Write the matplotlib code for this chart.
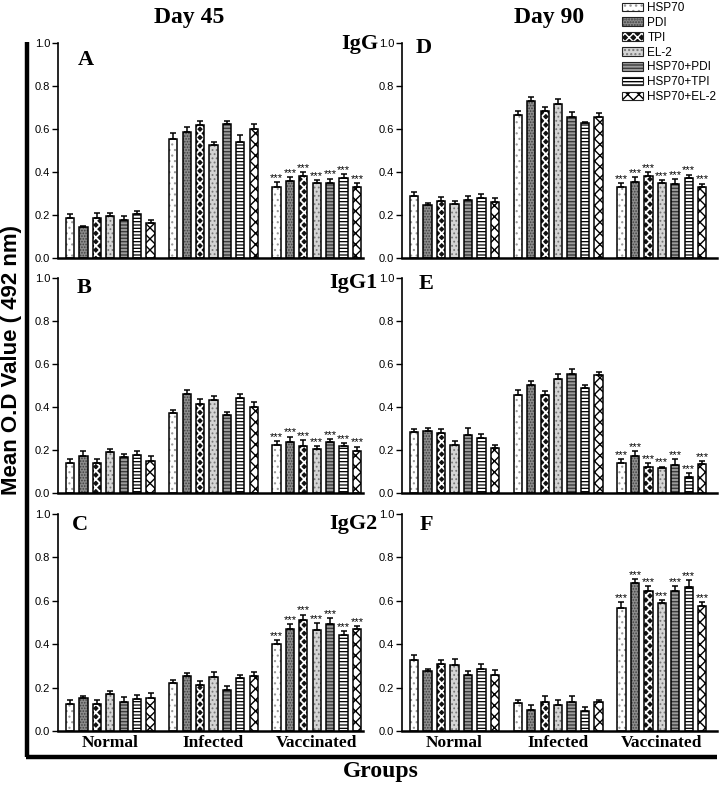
import numpy as np
import matplotlib
matplotlib.use("Agg")
import matplotlib.pyplot as plt
from matplotlib.patches import Patch
from matplotlib.lines import Line2D
from matplotlib.legend_handler import HandlerTuple

SERIF = "Liberation Serif"
SANS = "Liberation Sans"

groups = ["Normal", "Infected", "Vaccinated"]
antigens = ["HSP70", "PDI", "TPI", "EL-2", "HSP70+PDI", "HSP70+TPI", "HSP70+EL-2"]

# rows = Normal, Infected, Vaccinated ; cols = antigens
igg_d45 = [[0.185, 0.143, 0.185, 0.197, 0.176, 0.203, 0.162],
           [0.555, 0.586, 0.618, 0.524, 0.622, 0.540, 0.598],
           [0.330, 0.358, 0.383, 0.349, 0.349, 0.372, 0.330]]
igg_d45_err = [[0.018, 0.008, 0.022, 0.012, 0.020, 0.016, 0.014],
               [0.026, 0.023, 0.017, 0.017, 0.016, 0.031, 0.023],
               [0.023, 0.019, 0.017, 0.012, 0.020, 0.017, 0.019]]

igg1_d45 = [[0.138, 0.172, 0.138, 0.189, 0.169, 0.176, 0.148],
            [0.371, 0.460, 0.413, 0.433, 0.363, 0.440, 0.402],
            [0.224, 0.239, 0.220, 0.203, 0.239, 0.219, 0.196]]
igg1_d45_err = [[0.019, 0.023, 0.019, 0.016, 0.011, 0.019, 0.022],
                [0.016, 0.020, 0.025, 0.020, 0.012, 0.022, 0.020],
                [0.016, 0.023, 0.026, 0.016, 0.011, 0.012, 0.020]]

igg2_d45 = [[0.124, 0.151, 0.124, 0.171, 0.135, 0.147, 0.154],
            [0.223, 0.252, 0.214, 0.247, 0.189, 0.246, 0.255],
            [0.401, 0.470, 0.510, 0.467, 0.493, 0.442, 0.468]]
igg2_d45_err = [[0.020, 0.012, 0.018, 0.014, 0.020, 0.018, 0.021],
                [0.014, 0.014, 0.015, 0.025, 0.018, 0.012, 0.018],
                [0.018, 0.023, 0.026, 0.032, 0.026, 0.020, 0.015]]

igg_d90 = [[0.288, 0.246, 0.265, 0.249, 0.272, 0.280, 0.262],
           [0.665, 0.728, 0.682, 0.718, 0.657, 0.626, 0.654],
           [0.329, 0.355, 0.382, 0.348, 0.346, 0.371, 0.328]]
igg_d90_err = [[0.017, 0.012, 0.020, 0.015, 0.015, 0.020, 0.018],
               [0.017, 0.020, 0.018, 0.020, 0.020, 0.008, 0.022],
               [0.020, 0.020, 0.018, 0.014, 0.020, 0.017, 0.018]]

igg1_d90 = [[0.284, 0.288, 0.281, 0.222, 0.268, 0.254, 0.211],
            [0.456, 0.501, 0.456, 0.532, 0.555, 0.487, 0.547],
            [0.141, 0.172, 0.121, 0.115, 0.130, 0.074, 0.133]]
igg1_d90_err = [[0.012, 0.016, 0.016, 0.020, 0.033, 0.022, 0.012],
                [0.022, 0.020, 0.019, 0.020, 0.023, 0.014, 0.017],
                [0.016, 0.023, 0.017, 0.008, 0.026, 0.020, 0.016]]

igg2_d90 = [[0.329, 0.276, 0.310, 0.302, 0.259, 0.285, 0.259],
            [0.127, 0.098, 0.132, 0.119, 0.135, 0.091, 0.132],
            [0.569, 0.682, 0.643, 0.592, 0.643, 0.662, 0.575]]
igg2_d90_err = [[0.023, 0.011, 0.017, 0.028, 0.017, 0.022, 0.022],
                [0.016, 0.022, 0.029, 0.023, 0.028, 0.020, 0.012],
                [0.025, 0.019, 0.023, 0.012, 0.023, 0.034, 0.019]]

# (face, hatch, hatch colour, hatch linewidth) per antigen
styles = [("white", "...", "#9a9a9a", 0.8),
          ("#8c8c8c", "......", "#404040", 0.8),
          ("#111111", "xxxx", "white", 1.3),
          ("#d4d4d4", "....", "#777777", 0.8),
          ("#9c9c9c", "-----", "#3c3c3c", 1.0),
          ("white", "-----", "black", 0.9),
          ("white", "xxx", "black", 1.0)]

GAP = 7.7
BW = 0.62


def hatch_patch(face, hatch, hcol, hlw, **kw):
    with plt.rc_context({"hatch.linewidth": hlw}):
        p = Patch(facecolor=face, hatch=hatch, edgecolor=hcol, linewidth=0, **kw)
    if hasattr(p, "set_hatch_linewidth"):
        p.set_hatch_linewidth(hlw)
    return p


def draw_panel(ax, vals, errs, xmax, letter, lx, ly, bottom=False):
    vals = np.array(vals)
    errs = np.array(errs)
    for g in range(3):
        x = g * GAP + np.arange(7)
        for i in range(7):
            face, hatch, hcol, hlw = styles[i]
            with plt.rc_context({"hatch.linewidth": hlw}):
                bars = ax.bar(x[i], vals[g, i], width=BW, color=face, hatch=hatch,
                              edgecolor=hcol, linewidth=0, zorder=2)
            for p in bars.patches:
                if hasattr(p, "set_hatch_linewidth"):
                    p.set_hatch_linewidth(hlw)
            ax.bar(x[i], vals[g, i], width=BW, fill=False, edgecolor="black",
                   linewidth=1.1, zorder=3)
        ax.errorbar(x, vals[g], yerr=[np.zeros(7), errs[g]], fmt="none",
                    ecolor="black", elinewidth=1.1, capsize=2.4, capthick=1.1, zorder=4)
        if g == 2:
            for xi, v, e in zip(x, vals[g], errs[g]):
                ax.text(xi, v + e - 0.004, "***", ha="center", va="bottom",
                        fontsize=8, family=SANS)
    ax.set_xlim(-0.9, xmax)
    ax.set_ylim(0, 1.0)
    ax.set_yticks(np.arange(0, 1.01, 0.2))
    ax.set_yticklabels([f"{t:.1f}" for t in np.arange(0, 1.01, 0.2)], family=SANS)
    ax.tick_params(axis="y", length=4, width=1, labelsize=8, pad=1.5)
    ax.set_xticks([g * GAP + 3 for g in range(3)])
    if bottom:
        ax.set_xticklabels(groups, family=SERIF, fontweight="bold", fontsize=12.5)
    else:
        ax.set_xticklabels([])
    ax.tick_params(axis="x", length=0, pad=3)
    for s in ["top", "right"]:
        ax.spines[s].set_visible(False)
    ax.spines["left"].set_linewidth(1.2)
    ax.spines["bottom"].set_linewidth(1.8)
    ax.text(lx, ly, letter, transform=ax.transAxes, ha="center", va="center",
            fontsize=16, fontweight="bold", family=SERIF)


W, H = 721, 786
fig = plt.figure(figsize=(W / 100, H / 100), dpi=100)

def fx(px):
    return px / W

def fy(py):
    return 1 - py / H

left_x, left_w = fx(58), 305 / W
right_x, right_w = fx(402), 315 / W
rows = [(258, 215), (493, 215), (731, 217)]

panels = [
    (igg_d45, igg_d45_err, igg_d90, igg_d90_err, "A", "D", "IgG", 44),
    (igg1_d45, igg1_d45_err, igg1_d90, igg1_d90_err, "B", "E", "IgG1", 283),
    (igg2_d45, igg2_d45_err, igg2_d90, igg2_d90_err, "C", "F", "IgG2", 524),
]
letter_pos = [((0.092, 0.92), (0.07, 0.977)),
              ((0.085, 0.953), (0.076, 0.972)),
              ((0.072, 0.95), (0.076, 0.95))]

for r, (bot, h) in enumerate(rows):
    lv, le, rv, re_, la, ra, iso, iso_y = panels[r]
    axl = fig.add_axes([left_x, fy(bot), left_w, h / H])
    axr = fig.add_axes([right_x, fy(bot), right_w, h / H])
    (llx, lly), (rlx, rly) = letter_pos[r]
    draw_panel(axl, lv, le, 21.85, la, llx, lly, bottom=(r == 2))
    draw_panel(axr, rv, re_, 22.5, ra, rlx, rly, bottom=(r == 2))
    fig.text(fx(378), fy(iso_y), iso, ha="right", va="center", fontsize=16,
             fontweight="bold", family=SERIF)

# column titles
fig.text(fx(189), fy(18), "Day 45", ha="center", va="center", fontsize=17,
         fontweight="bold", family=SERIF)
fig.text(fx(549), fy(18), "Day 90", ha="center", va="center", fontsize=17,
         fontweight="bold", family=SERIF)

# outer frame
fig.add_artist(Line2D([fx(27), fx(27)], [fy(42), fy(757)], color="black", lw=3.2,
                      solid_capstyle="butt"))
fig.add_artist(Line2D([fx(25.5), fx(717)], [fy(757), fy(757)], color="black", lw=3.2,
                      solid_capstyle="butt"))

fig.text(fx(12), fy(360), "Mean O.D Value ( 492 nm)", rotation=90, ha="center",
         va="center", fontsize=16, fontweight="bold", family=SANS)
fig.text(fx(381), fy(771), "Groups", ha="center", va="center", fontsize=17,
         fontweight="bold", family=SERIF)

handles = [(hatch_patch(*s), Patch(fill=False, edgecolor="#222222", linewidth=0.8))
           for s in styles]
fig.legend(handles, antigens, loc="upper left", bbox_to_anchor=(fx(622), fy(2)),
           handler_map={tuple: HandlerTuple(ndivide=1, pad=0)},
           frameon=False, prop={"family": SANS, "size": 8.5}, handlelength=1.8,
           handleheight=0.75, labelspacing=0.24, handletextpad=0.35,
           borderpad=0, borderaxespad=0)

fig.savefig("out.png", dpi=100)
